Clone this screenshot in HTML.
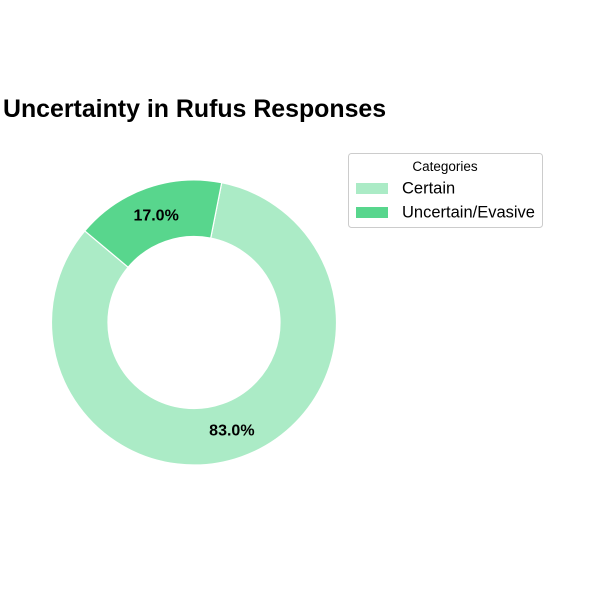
<!DOCTYPE html>
<html><head><meta charset="utf-8"><style>
html,body{margin:0;padding:0;background:#fff;}
svg{display:block;font-family:"Liberation Sans",Arial,sans-serif;}
</style></head><body>
<svg id="chart" width="614" height="600" viewBox="0 0 614 600">
<text x="3" y="117" font-size="24.9" font-weight="bold" fill="#000">Uncertainty in Rufus Responses</text>
<g id="slices"></g>
<g>
<rect x="348.5" y="153.5" width="194" height="74" rx="3" fill="#fff" stroke="#ccc"/>
<text x="445" y="171" font-size="13.5" text-anchor="middle" fill="#000">Categories</text>
<g id="legend-entries"></g>
</g>
</svg>
<script>
const categories = ["Certain", "Uncertain/Evasive"];
const values = [83.0, 17.0];
const colors = ["#abebc6", "#58d68d"];
const cx = 194, cy = 322.5, R = 142.5, r = 86, startAngle = 140;
const NS = "http://www.w3.org/2000/svg";
const g = document.getElementById("slices");
const total = values.reduce((a,b)=>a+b,0);
function pt(a, rad){const t=a*Math.PI/180;return [cx+rad*Math.cos(t), cy-rad*Math.sin(t)];}
let a0 = startAngle;
values.forEach((v,i)=>{
  const sweep = v/total*360, a1 = a0+sweep;
  const [x0,y0]=pt(a0,R),[x1,y1]=pt(a1,R),[x2,y2]=pt(a1,r),[x3,y3]=pt(a0,r);
  const large = sweep>180?1:0;
  const p = document.createElementNS(NS,"path");
  p.setAttribute("d",`M${x0},${y0} A${R},${R} 0 ${large} 0 ${x1},${y1} L${x2},${y2} A${r},${r} 0 ${large} 1 ${x3},${y3} Z`);
  p.setAttribute("fill",colors[i]);p.setAttribute("stroke","#fff");p.setAttribute("stroke-width","1.2");
  
  
  g.appendChild(p);
  const [lx,ly]=pt(a0+sweep/2,0.8*R);
  const t=document.createElementNS(NS,"text");
  t.setAttribute("x",lx);t.setAttribute("y",ly+5.5);t.setAttribute("text-anchor","middle");
  t.setAttribute("font-size","16");t.setAttribute("font-weight","bold");
  t.textContent=v.toFixed(1)+"%";
  
  
  g.appendChild(t);
  a0=a1;
});
const le=document.getElementById("legend-entries");
categories.forEach((c,i)=>{
  const y=188+i*24;
  const rc=document.createElementNS(NS,"rect");
  rc.setAttribute("x",356);rc.setAttribute("y",y-5);rc.setAttribute("width",32);rc.setAttribute("height",11);rc.setAttribute("fill",colors[i]);
  
  
  le.appendChild(rc);
  const t=document.createElementNS(NS,"text");
  t.setAttribute("x",402);t.setAttribute("y",y+5.5);t.setAttribute("font-size","16.5");
  t.textContent=c;
  
  
  le.appendChild(t);
});
</script>
</body></html>
